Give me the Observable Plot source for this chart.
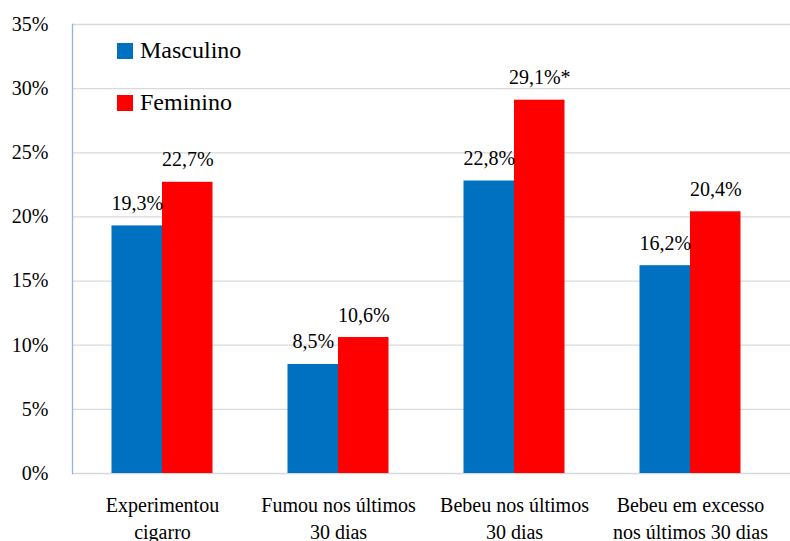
<!DOCTYPE html>
<html>
<head>
<meta charset="utf-8">
<script src="https://cdn.jsdelivr.net/npm/d3@7"></script>
<script src="https://cdn.jsdelivr.net/npm/@observablehq/plot@0.6"></script>
</head>
<body style="margin:0;background:#fff;font-family:'Liberation Serif','DejaVu Serif',serif">
<div id="wrap" style="position:relative;width:790px;height:541px;font-family:'Liberation Serif','DejaVu Serif',serif"></div>
<script>
const categories = ["Experimentou cigarro", "Fumou nos \u00faltimos 30 dias", "Bebeu nos \u00faltimos 30 dias", "Bebeu em excesso nos \u00faltimos 30 dias"];
const axisLabels = ["Experimentou\ncigarro", "Fumou nos \u00faltimos\n30 dias", "Bebeu nos \u00faltimos\n30 dias", "Bebeu em excesso\nnos \u00faltimos 30 dias"];
const masculino = [19.3, 8.5, 22.8, 16.2];
const feminino = [22.7, 10.6, 29.1, 20.4];
const labelsMasculino = ["19,3%", "8,5%", "22,8%", "16,2%"];
const labelsFeminino = ["22,7%", "10,6%", "29,1%*", "20,4%"];
const yTicks = [0, 5, 10, 15, 20, 25, 30, 35];
const seriesNames = ["Masculino", "Feminino"];
const colors = ["#0070C0", "#FF0000"];

const dataM = categories.map((c, i) => ({cat: c, value: masculino[i], label: labelsMasculino[i]}));
const dataF = categories.map((c, i) => ({cat: c, value: feminino[i], label: labelsFeminino[i]}));
const labelOf = new Map(categories.map((c, i) => [c, axisLabels[i]]));

const halfBand = 88, barW = 50.5;
const FONT = "'Liberation Serif','DejaVu Serif',serif";

const chart = Plot.plot({
  width: 790,
  height: 541,
  marginLeft: 72,
  marginRight: 0,
  marginTop: 24,
  marginBottom: 68,
  style: {fontFamily: FONT, fontSize: "20px"},
  x: {type: "band", domain: categories, range: [74, 778], padding: 0},
  y: {domain: [0, 35]},
  marks: [
    Plot.gridY(yTicks, {stroke: "#d9d9d9", strokeOpacity: 1, strokeWidth: 1.3}),
    Plot.frame({anchor: "left", stroke: "#8fb4e3", strokeWidth: 1.3}),
    Plot.barY(dataM, {x: "cat", y: "value", fill: colors[0], insetLeft: halfBand - barW, insetRight: halfBand}),
    Plot.barY(dataF, {x: "cat", y: "value", fill: colors[1], insetLeft: halfBand, insetRight: halfBand - barW}),
    Plot.text(dataM, {x: "cat", y: "value", text: "label", dx: -barW / 2, dy: -16, lineAnchor: "bottom", fontSize: 20, fill: "#000"}),
    Plot.text(dataF, {x: "cat", y: "value", text: "label", dx: barW / 2, dy: -16, lineAnchor: "bottom", fontSize: 20, fill: "#000"}),
    Plot.axisY(yTicks, {tickSize: 0, tickPadding: 24, tickFormat: d => d + "%", fontSize: 20, fill: "#000", label: null}),
    Plot.axisX({tickSize: 0, tickPadding: 19, tickFormat: d => labelOf.get(d), fontSize: 20, fill: "#000", lineHeight: 1.35, label: null})
  ]
});
chart.setAttribute("font-family", FONT);

const wrap = document.getElementById("wrap");
wrap.appendChild(chart);

const legendTops = [43, 95];
seriesNames.forEach((name, i) => {
  const sw = document.createElement("div");
  sw.setAttribute("style", `position:absolute;left:117px;top:${legendTops[i]}px;width:16px;height:16px;background:${colors[i]}`);
  wrap.appendChild(sw);
  const t = document.createElement("div");
  t.setAttribute("style", `position:absolute;left:140px;top:${legendTops[i] - 5.5}px;font-family:${FONT};font-size:24px;line-height:24px;color:#000;white-space:nowrap`);
  t.textContent = name;
  wrap.appendChild(t);
});
</script>
</body>
</html>
